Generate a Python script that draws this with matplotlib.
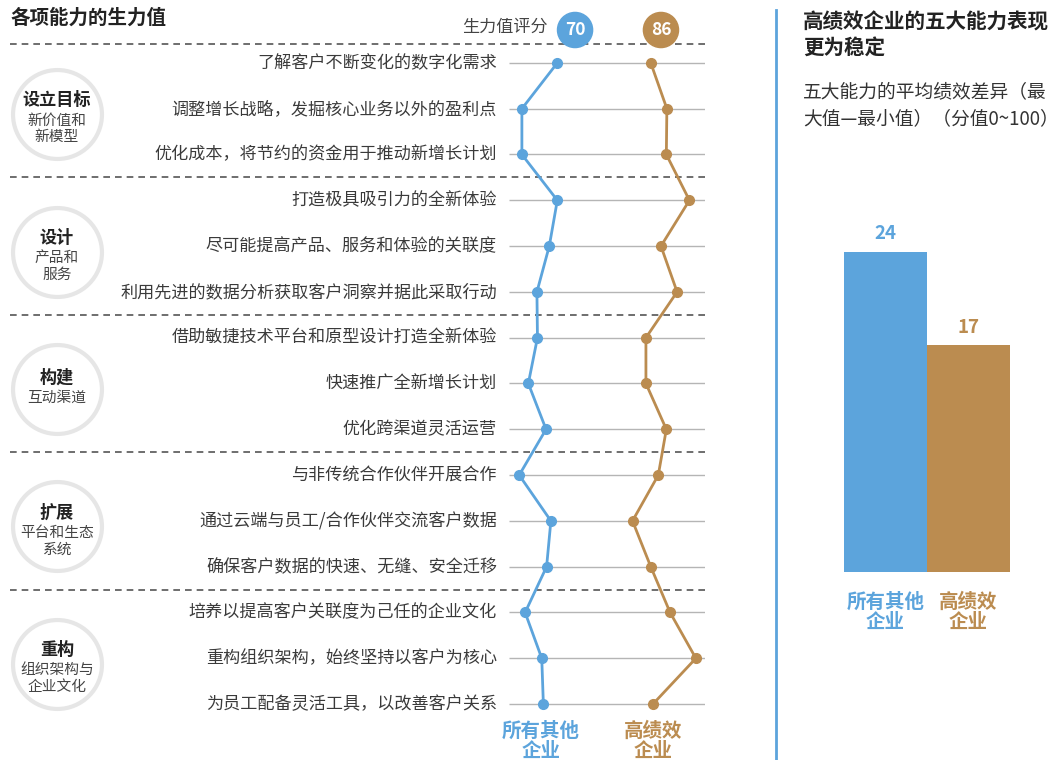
import matplotlib.pyplot as plt
from matplotlib.lines import Line2D
from matplotlib.transforms import blended_transform_factory
import numpy as np

plt.rcParams['font.family'] = ['Noto Sans CJK SC', 'DejaVu Sans']

BLUE = '#5ca4dc'
GOLD = '#bb8c50'

# data
groups = ["设立目标", "设计", "构建", "扩展", "重构"]
group_subs = ["新价值和\n新模型", "产品和\n服务", "互动渠道", "平台和生态\n系统", "组织架构与\n企业文化"]
items = [
    "了解客户不断变化的数字化需求",
    "调整增长战略，发掘核心业务以外的盈利点",
    "优化成本，将节约的资金用于推动新增长计划",
    "打造极具吸引力的全新体验",
    "尽可能提高产品、服务和体验的关联度",
    "利用先进的数据分析获取客户洞察并据此采取行动",
    "借助敏捷技术平台和原型设计打造全新体验",
    "快速推广全新增长计划",
    "优化跨渠道灵活运营",
    "与非传统合作伙伴开展合作",
    "通过云端与员工/合作伙伴交流客户数据",
    "确保客户数据的快速、无缝、安全迁移",
    "培养以提高客户关联度为己任的企业文化",
    "重构组织架构，始终坚持以客户为核心",
    "为员工配备灵活工具，以改善客户关系",
]
other_scores = [66.7, 60.1, 60.1, 66.7, 65.2, 62.9, 63.0, 61.3, 64.6, 59.6, 65.5, 64.7, 60.7, 63.8, 64.1]
top_scores = [84.1, 87.1, 87.0, 91.3, 86.0, 89.0, 83.2, 83.2, 87.0, 85.5, 80.7, 84.1, 87.7, 92.5, 84.5]
avg_labels = [70, 86]
series_names = ["所有其他\n企业", "高绩效\n企业"]
spread = [24, 17]

W, H = 1060, 760
fig = plt.figure(figsize=(10.6, 7.6), dpi=100)


def fx(px):
    return px / W


def fy(py):
    return 1 - py / H


# ---- left panel: line chart ----
ax = fig.add_axes([fx(509), fy(727), (705 - 509) / W, (727 - 40) / H])
ax.set_xlim(57.7, 94.2)
ax.set_ylim(14.5, -0.5)
ax.axis('off')

rows = np.arange(len(items))
ax.hlines(rows, 57.7, 94.2, color='#b5b5b5', lw=1, zorder=1)

tr = blended_transform_factory(fig.transFigure, ax.transData)
for y in [-0.42, 2.5, 5.5, 8.5, 11.5]:
    ax.plot([fx(10), fx(708)], [y, y], transform=tr, color='#555555', lw=1.2,
            ls=(0, (4, 3)), clip_on=False)

ax.plot(other_scores, rows, color=BLUE, lw=2, marker='o', ms=7, zorder=3, clip_on=False)
ax.plot(top_scores, rows, color=GOLD, lw=2, marker='o', ms=7, zorder=3, clip_on=False)

for i, label in enumerate(items):
    ax.text(fx(497), i, label, transform=tr, ha='right', va='center',
            fontsize=12.3, color='#3a3a3a')

# group badges
for g, (name, sub) in enumerate(zip(groups, group_subs)):
    gy = g * 3 + 1.12
    ax.scatter([fx(57)], [gy], s=4100, transform=tr, facecolor='white',
               edgecolor='#e6e6e6', lw=3, clip_on=False, zorder=2)
    two = '\n' in sub
    ax.annotate(name, xy=(fx(57), gy), xycoords=tr, xytext=(0, 10 if two else 8.5),
                textcoords='offset points', ha='center', va='center',
                fontsize=12.3, fontweight='bold', color='#222222')
    ax.annotate(sub, xy=(fx(57), gy), xycoords=tr, xytext=(0, -10.5 if two else -6),
                textcoords='offset points', ha='center', va='center',
                fontsize=10.6, color='#444444', linespacing=1.25)

# header
fig.text(fx(10), fy(18), "各项能力的生力值", fontsize=14, fontweight='bold',
         color='#222222', va='center')
fig.text(fx(548), fy(27), "生力值评分", fontsize=12.3, color='#444444',
         ha='right', va='center')
trb = blended_transform_factory(ax.transData, fig.transFigure)
ax.scatter(avg_labels, [fy(30)] * 2, s=640, color=[BLUE, GOLD], transform=trb,
           clip_on=False, zorder=4)
for v, c in zip(avg_labels, [BLUE, GOLD]):
    ax.text(v, fy(30), str(v), transform=trb, ha='center', va='center',
            fontsize=12.5, fontweight='bold', color='white', zorder=5)

for x, name, c in zip([541, 653], series_names, [BLUE, GOLD]):
    fig.text(fx(x), fy(741), name, ha='center', va='center', fontsize=14,
             fontweight='bold', color=c, linespacing=1.1)

# divider
fig.add_artist(Line2D([fx(776), fx(776)], [fy(10), fy(760)], color=BLUE, lw=2))

# ---- right panel ----
fig.text(fx(803), fy(35), "高绩效企业的五大能力表现\n更为稳定", fontsize=14.8,
         fontweight='bold', color='#222222', va='center', linespacing=1.3)
fig.text(fx(803), fy(105), "五大能力的平均绩效差异（最\n大值—最小值）（分值0~100）",
         fontsize=13.5, color='#333333', va='center', linespacing=1.38)

axb = fig.add_axes([fx(844), fy(572), (1010 - 844) / W, 400 / H])
axb.bar([0, 1], spread, width=1, color=[BLUE, GOLD])
axb.set_xlim(-0.5, 1.5)
axb.set_ylim(0, 30)
axb.axis('off')
for i, (v, c, name) in enumerate(zip(spread, [BLUE, GOLD], series_names)):
    axb.annotate(str(v), (i, v), xytext=(0, 13), textcoords='offset points',
                 ha='center', va='center', fontsize=13.5, fontweight='bold', color=c)
    axb.annotate(name, (i, 0), xytext=(0, -29), textcoords='offset points',
                 ha='center', va='center', fontsize=14, fontweight='bold',
                 color=c, linespacing=1.1)

fig.savefig("out.png", dpi=100)
